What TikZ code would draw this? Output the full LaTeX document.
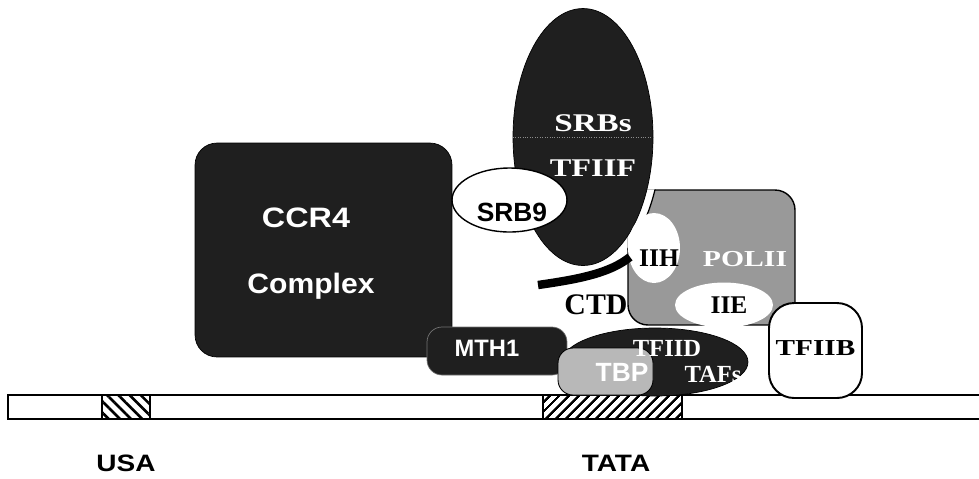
\documentclass[tikz,border=0pt]{standalone}
\usepackage{fontspec}
\setmainfont{Liberation Serif}
\setsansfont{Liberation Sans}
\usepackage{graphicx}
\usepackage{tikz}
\usetikzlibrary{positioning, shapes.geometric, patterns.meta}

\newcommand{\wide}[2]{\scalebox{#1}[1]{#2}}

\begin{document}
\begin{tikzpicture}[x=0.02cm, y=-0.02cm, on grid,
   dark/.style={draw=black, fill=black!88},
   grey/.style={draw=black, line width=0.8pt, fill=black!40},
   blank/.style={draw=black, line width=0.8pt, fill=white},
   hole/.style={fill=white, ellipse, inner sep=0pt},
   sanstxt/.style={inner sep=0pt, font=\sffamily\bfseries\fontsize{#1}{#1}\selectfont},
   seriftxt/.style={inner sep=0pt, font=\bfseries\fontsize{#1}{#1}\selectfont},
   dna/.style={line width=1.1pt}]
   \useasboundingbox (0,0) rectangle (979,478);

   % DNA strand
   \coordinate (dna_l) at (8,395);
   \coordinate (dna_r) at (979,419);
   \draw[dna] (dna_r |- dna_l) -- (dna_l) -- (dna_l |- dna_r) -- (dna_r);
   \node[draw, dna, inner sep=0pt, minimum width=0.96cm, minimum height=0.48cm,
         pattern={Lines[angle=-45, distance=4.5pt, line width=1.5pt]}] (usa) at (126,407) {};
   \node[draw, dna, inner sep=0pt, minimum width=2.78cm, minimum height=0.48cm,
         pattern={Lines[angle=45, distance=4pt, line width=1.4pt]}] (tata) at (612.5,407) {};
   \node[sanstxt=13.5] (usa_lbl) at (126,463) {\wide{1.18}{USA}};
   \node[sanstxt=13.5] (tata_lbl) at (616,463) {\wide{1.18}{TATA}};

   % CCR4 complex and pol II
   \node[dark, rounded corners=0.44cm, minimum width=5.14cm, minimum height=4.28cm] (ccr4) at (323.5,250) {};
   \node[grey, rounded corners=0.4cm, minimum width=3.34cm, minimum height=2.7cm] (pol2) at (711.5,257.5) {};

   % SRBs / TFIIF, with its white rim cut into pol II
   \begin{scope}
      \clip[rounded corners=0.4cm] (pol2.south west) rectangle (pol2.north east);
      \node[blank, ellipse, line width=0.7pt, minimum width=3.12cm, minimum height=5.46cm] (srbs_rim) at (583,137) {};
   \end{scope}
   \node[dark, ellipse, minimum width=2.8cm, minimum height=5.14cm] (srbs) at (583,137) {};
   \draw[black!45, densely dotted] (srbs.west) -- (srbs.east);
   \node[blank, ellipse, minimum width=2.3cm, minimum height=1.28cm] (srb9) at (509.5,200) {};
   \node[hole, minimum width=1.04cm, minimum height=1.4cm] (iih) at (654,248) {};
   \node[hole, minimum width=1.96cm, minimum height=0.9cm] (iie) at (724,305) {};

   % CTD tail
   \coordinate (ctd_a) at (538,285);
   \coordinate (ctd_b) at (630,257);
   \draw[line width=4.8pt] (ctd_a) .. controls (580,279) and (610,273) .. (ctd_b);

   % TFIID, MTH1, TBP, TFIIB
   \node[dark, ellipse, minimum width=3.72cm, minimum height=1.36cm] (tfiid) at (655,362) {};
   \node[dark, draw=black!55, rounded corners=0.3cm, minimum width=2.8cm, minimum height=0.96cm] (mth1) at (497,351) {};
   \node[grey, fill=black!28, line width=0.5pt, rounded corners=0.3cm, minimum width=1.9cm, minimum height=0.94cm] (tbp) at (605.5,371.5) {};
   \node[blank, line width=1.1pt, rounded corners=0.5cm, minimum width=1.86cm, minimum height=1.9cm] (tfiib) at (815.5,350.5) {};

   % labels
   \node[sanstxt=16, text=white, anchor=base] (ccr4_lbl) at (306,227) {\wide{1.15}{CCR4}};
   \node[sanstxt=16, text=white, anchor=base] (cplx_lbl) at (311,293) {\wide{1.07}{Complex}};
   \node[sanstxt=15] (srb9_lbl) at (512,212) {SRB9};
   \node[seriftxt=14.5, text=white] (srbs_lbl) at (593,123) {\wide{1.3}{SRBs}};
   \node[seriftxt=14.5, text=white] (tfiif_lbl) [below=0.9cm of srbs_lbl] {\wide{1.27}{TFIIF}};
   \node[seriftxt=13, text=white] (pol2_lbl) at (745,259) {\wide{1.3}{POLII}};
   \node[seriftxt=14.5] (iih_lbl) at (659,258) {IIH};
   \node[seriftxt=14.5] (iie_lbl) at (729,305) {IIE};
   \node[seriftxt=17] (ctd_lbl) at (596,305) {CTD};
   \node[sanstxt=13.5, text=white] (mth1_lbl) at (487,348) {MTH1};
   \node[seriftxt=14, text=white] (tfiid_lbl) at (667,348) {TFIID};
   \node[seriftxt=14, text=white] (tafs_lbl) [below right=0.52cm and 0.92cm of tfiid_lbl] {TAFs};
   \node[sanstxt=15, text=white] (tbp_lbl) at (622,372) {TBP};
   \node[seriftxt=13] (tfiib_lbl) at (815.5,348) {\wide{1.28}{TFIIB}};
\end{tikzpicture}
\end{document}
